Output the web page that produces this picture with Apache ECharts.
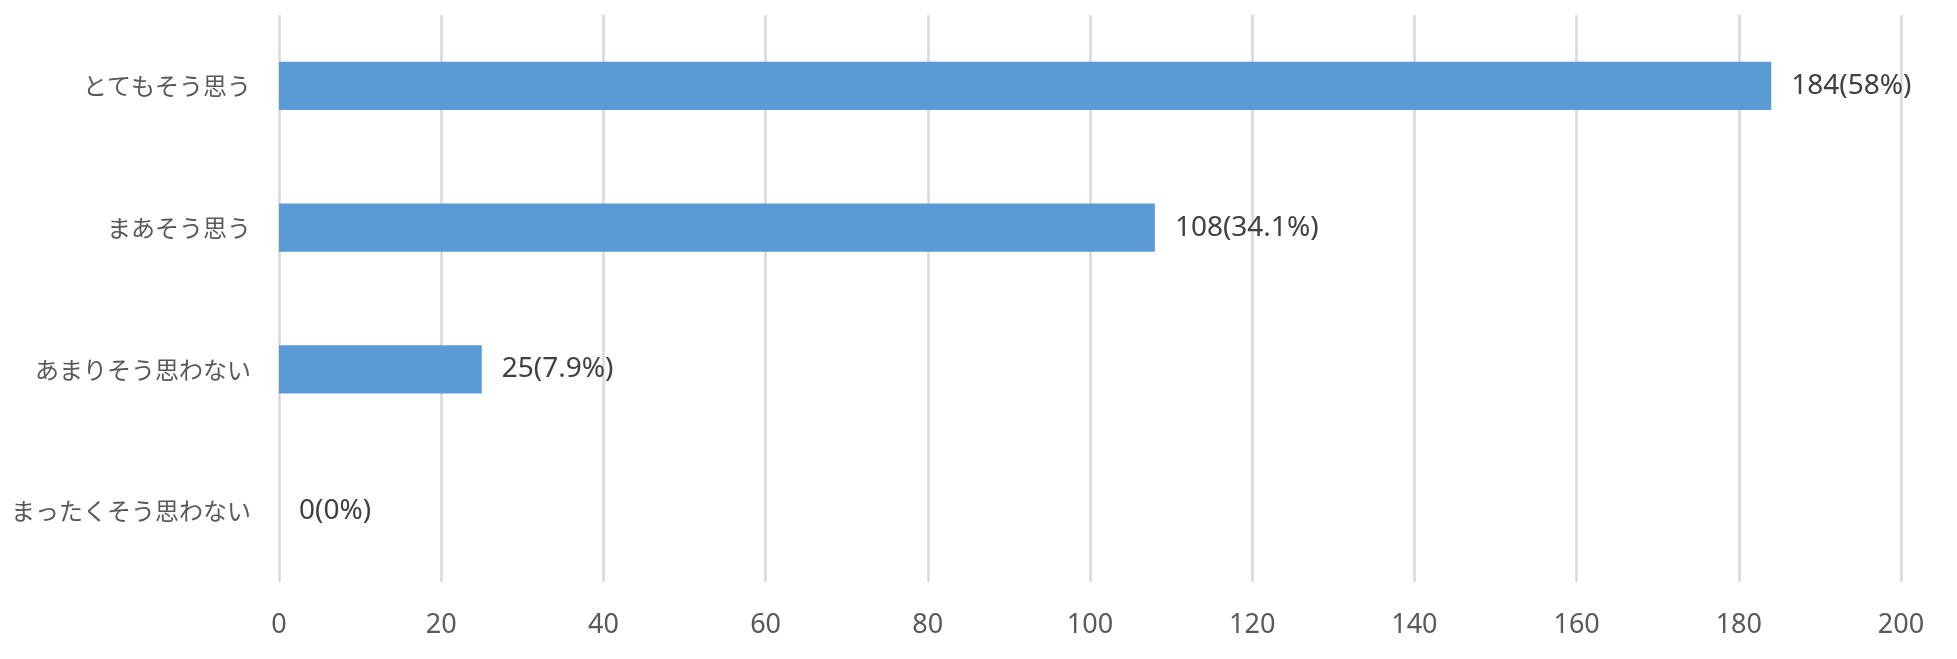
<!DOCTYPE html>
<html>
<head>
<meta charset="utf-8">
<script src="https://cdn.jsdelivr.net/npm/echarts@6/dist/echarts.min.js"></script>
<style>
html,body{margin:0;padding:0;background:#fff;}
#chart{width:1957px;height:659px;}
</style>
</head>
<body>
<div id="chart"></div>
<script>
const categories = ['とてもそう思う', 'まあそう思う', 'あまりそう思わない', 'まったくそう思わない'];
const values = [184, 108, 25, 0];
const percents = ['58%', '34.1%', '7.9%', '0%'];
const xTicks = { min: 0, max: 200, interval: 20 };

const chart = echarts.init(document.getElementById('chart'));
chart.setOption({
  animation: false,
  grid: { left: 279, right: 56, top: 15, bottom: 77, containLabel: false },
  xAxis: {
    type: 'value',
    min: xTicks.min, max: xTicks.max, interval: xTicks.interval,
    axisLine: { show: false },
    axisTick: { show: false },
    splitLine: { show: true, lineStyle: { color: '#D9D9D9', width: 2.5 } },
    axisLabel: { color: '#595959', fontSize: 27, margin: 30, fontFamily: 'Noto Sans' }
  },
  yAxis: {
    type: 'category',
    data: categories,
    inverse: true,
    axisLine: { show: false },
    axisTick: { show: false },
    axisLabel: { color: '#595959', fontSize: 24, margin: 28, fontFamily: 'Noto Sans CJK JP' }
  },
  series: [{
    type: 'bar',
    data: values,
    barCategoryGap: '66%',
    itemStyle: { color: '#5B9BD5' },
    label: {
      show: true,
      position: 'right',
      distance: 20,
      color: '#404040',
      fontSize: 28,
      fontFamily: 'Noto Sans',
      formatter: p => values[p.dataIndex] + '(' + percents[p.dataIndex] + ')'
    }
  }]
});
</script>
</body>
</html>
